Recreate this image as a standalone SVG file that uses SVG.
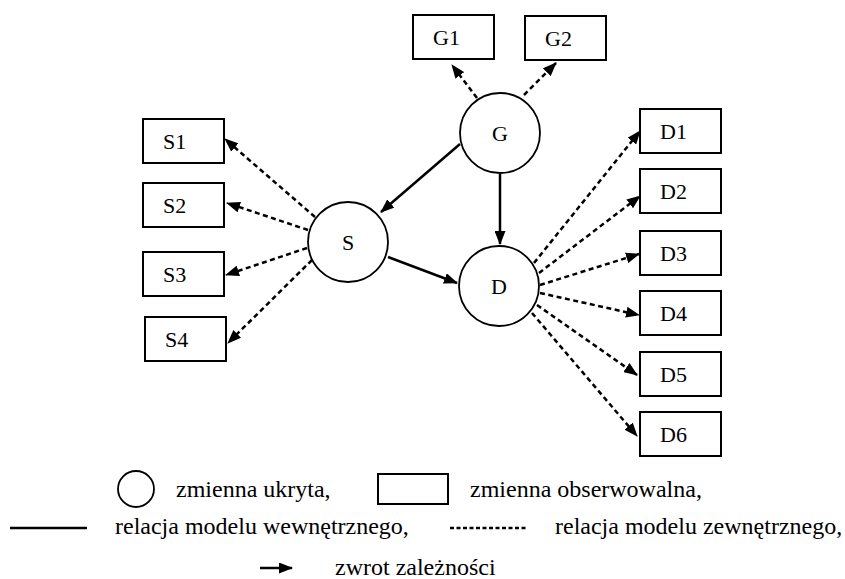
<svg xmlns="http://www.w3.org/2000/svg" width="845" height="579" viewBox="0 0 845 579">
<style>
  text { font-family: "Liberation Serif", "Times New Roman", serif; fill: #000; }
  .lbl { font-size: 22px; }
  .clbl { font-size: 22px; text-anchor: middle; }
  .leg { font-size: 24px; }
  .box { fill: #fff; stroke: #000; stroke-width: 2; }
  .circ { fill: #fff; stroke: #000; stroke-width: 1.8; }
  .solid { stroke: #000; stroke-width: 2.5; fill: none; }
  .dash { stroke: #000; stroke-width: 2.5; fill: none; stroke-dasharray: 5 3.5; }
  .dot { stroke: #000; stroke-width: 2.5; fill: none; stroke-dasharray: 4 2.5; }
</style>
<defs>
  <marker id="ah" markerUnits="userSpaceOnUse" markerWidth="14" markerHeight="11" refX="13" refY="5.5" orient="auto">
    <path d="M0,0 L14,5.5 L0,11 z" fill="#000"/>
  </marker>
</defs>
<rect width="845" height="579" fill="#fff"/>
<g id="connectors">
  <line class="dash" x1="477" y1="98" x2="452" y2="65" marker-end="url(#ah)"/>
  <line class="dash" x1="524" y1="95" x2="556" y2="63" marker-end="url(#ah)"/>
  <line class="solid" x1="460" y1="144" x2="381" y2="212" marker-end="url(#ah)"/>
  <line class="solid" x1="388" y1="257" x2="457" y2="283" marker-end="url(#ah)"/>
  <line class="solid" x1="500" y1="174" x2="500" y2="244" marker-end="url(#ah)"/>
  <line class="dash" x1="315" y1="217" x2="225" y2="139" marker-end="url(#ah)"/>
  <line class="dash" x1="308" y1="230" x2="227" y2="203" marker-end="url(#ah)"/>
  <line class="dash" x1="307" y1="248" x2="226" y2="275" marker-end="url(#ah)"/>
  <line class="dash" x1="312" y1="260" x2="228" y2="343" marker-end="url(#ah)"/>
  <line class="dash" x1="534" y1="263" x2="640" y2="131" marker-end="url(#ah)"/>
  <line class="dash" x1="539" y1="273" x2="640" y2="196" marker-end="url(#ah)"/>
  <line class="dash" x1="540" y1="285" x2="639" y2="254" marker-end="url(#ah)"/>
  <line class="dash" x1="540" y1="293" x2="639" y2="315" marker-end="url(#ah)"/>
  <line class="dash" x1="537" y1="305" x2="637" y2="375" marker-end="url(#ah)"/>
  <line class="dash" x1="532" y1="313" x2="637" y2="436" marker-end="url(#ah)"/>
</g>
<g id="G"><circle class="circ" cx="500" cy="133" r="40"/><text class="clbl" x="500" y="141">G</text></g>
<g id="S"><circle class="circ" cx="348" cy="242" r="40"/><text class="clbl" x="348" y="250">S</text></g>
<g id="D"><circle class="circ" cx="499" cy="286" r="40"/><text class="clbl" x="499" y="294">D</text></g>
<g id="G1"><rect class="box" x="413" y="15" width="81" height="44"/><text class="lbl" x="433" y="45">G1</text></g>
<g id="G2"><rect class="box" x="525" y="16" width="81" height="44"/><text class="lbl" x="545" y="46">G2</text></g>
<g id="S1"><rect class="box" x="143" y="119" width="81" height="44"/><text class="lbl" x="163" y="149">S1</text></g>
<g id="S2"><rect class="box" x="143" y="183" width="81" height="44"/><text class="lbl" x="163" y="213">S2</text></g>
<g id="S3"><rect class="box" x="143" y="252" width="81" height="44"/><text class="lbl" x="163" y="282">S3</text></g>
<g id="S4"><rect class="box" x="145" y="317" width="81" height="44"/><text class="lbl" x="165" y="347">S4</text></g>
<g id="D1"><rect class="box" x="640" y="109" width="81" height="44"/><text class="lbl" x="660" y="139">D1</text></g>
<g id="D2"><rect class="box" x="640" y="169" width="81" height="44"/><text class="lbl" x="660" y="199">D2</text></g>
<g id="D3"><rect class="box" x="640" y="231" width="81" height="44"/><text class="lbl" x="660" y="261">D3</text></g>
<g id="D4"><rect class="box" x="640" y="291" width="81" height="44"/><text class="lbl" x="660" y="321">D4</text></g>
<g id="D5"><rect class="box" x="640" y="352" width="81" height="44"/><text class="lbl" x="660" y="382">D5</text></g>
<g id="D6"><rect class="box" x="640" y="412" width="81" height="44"/><text class="lbl" x="660" y="442">D6</text></g>
<g id="legend">
  <circle class="circ" cx="136" cy="489" r="18"/>
  <text class="leg" x="176" y="497">zmienna ukryta,</text>
  <rect class="box" x="378" y="474" width="70" height="30"/>
  <text class="leg" x="470" y="497">zmienna obserwowalna,</text>
  <line class="solid" x1="10" y1="528" x2="87" y2="528"/>
  <text class="leg" x="115" y="534">relacja modelu wewnętrznego,</text>
  <line class="dot" x1="450" y1="528" x2="527" y2="528"/>
  <text class="leg" x="555" y="534">relacja modelu zewnętrznego,</text>
  <line class="solid" x1="260" y1="568" x2="292" y2="568" marker-end="url(#ah)"/>
  <text class="leg" x="335" y="575">zwrot zależności</text>
</g>
</svg>
